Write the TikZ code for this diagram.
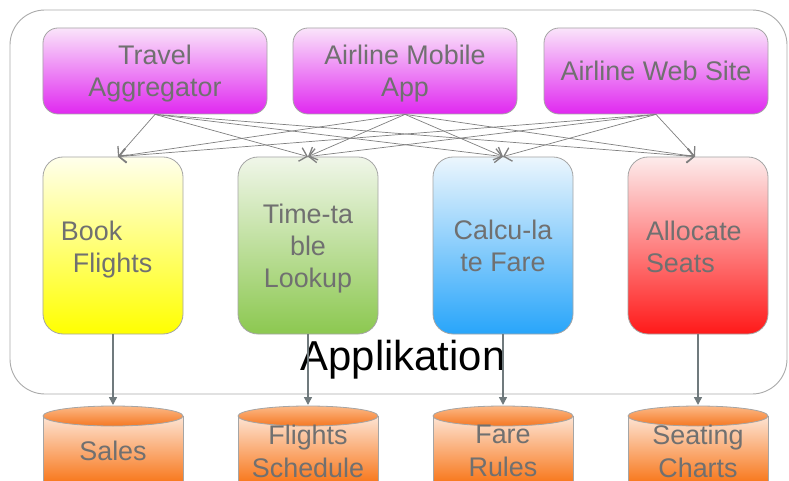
\documentclass[tikz,border=0pt]{standalone}
\usepackage{fontspec}
\setmainfont{Liberation Sans}
\usetikzlibrary{arrows.meta}
\definecolor{txtgray}{RGB}{112,112,112}
\definecolor{bordercol}{RGB}{165,165,165}
\definecolor{outercol}{RGB}{170,170,170}
\definecolor{arrgray}{RGB}{128,128,128}
\definecolor{darrgray}{RGB}{112,122,125}
\definecolor{purtop}{RGB}{250,228,250}
\definecolor{purbot}{RGB}{224,40,240}
\definecolor{yeltop}{RGB}{255,255,236}
\definecolor{yelbot}{RGB}{255,255,0}
\definecolor{grntop}{RGB}{240,246,233}
\definecolor{grnbot}{RGB}{140,200,80}
\definecolor{blutop}{RGB}{236,246,253}
\definecolor{blubot}{RGB}{40,165,250}
\definecolor{redtop}{RGB}{253,236,236}
\definecolor{redbot}{RGB}{255,25,25}
\definecolor{dbtop}{RGB}{253,228,212}
\definecolor{dbbot}{RGB}{248,122,32}
\definecolor{eltop}{RGB}{252,185,135}
\definecolor{elbot}{RGB}{245,120,35}
\newcommand{\dbcyl}[1]{%
  \fill[top color=dbtop, bottom color=dbbot] (#1-70,416) rectangle (#1+70,481);
  \draw[bordercol, line width=0.8bp] (#1-70,416) -- (#1-70,481) (#1+70,416) -- (#1+70,481);
  \draw[bordercol, line width=0.8bp, top color=eltop, bottom color=elbot] (#1,416) ellipse [x radius=70, y radius=10];
}
\begin{document}
\begin{tikzpicture}[x=1bp,y=-1bp,
  box/.style={draw=bordercol, line width=0.8bp, inner sep=0pt, text depth=0pt,
    font=\fontsize{27}{32}\selectfont, text=txtgray, align=center},
  topbox/.style={box, rounded corners=15bp, minimum width=224bp, minimum height=86bp,
    top color=purtop, bottom color=purbot},
  midbox/.style={box, rounded corners=20bp, minimum width=140bp, minimum height=177bp},
  lbox/.style={midbox, text width=104bp, inner xsep=18bp, align=left, text depth=30bp},
  dbtext/.style={inner sep=0pt, text depth=0pt, font=\fontsize{27}{33}\selectfont,
    text=txtgray, align=center},
  toparrow/.style={draw=arrgray, line width=0.7bp,
    -{Straight Barb[length=7bp,width=14bp,line width=1.3bp]}},
  botarrow/.style={draw=darrgray, line width=1.5bp,
    -{Triangle[length=8bp,width=8bp]}}
]
\useasboundingbox (0,0) rectangle (789,481);
\fill[white] (0,0) rectangle (789,481);
\draw[outercol, line width=0.9bp, rounded corners=35bp] (10,10) rectangle (787,394);

% top boxes
\node[topbox] (ta) at (155,71) {Travel\\Aggregator};
\node[topbox] (ma) at (405,71) {Airline Mobile\\App};
\node[topbox] (ws) at (656,71) {Airline Web Site};

% middle boxes
\node[lbox, top color=yeltop, bottom color=yelbot] (bf) at (113,245.5) {Book\\\hspace*{12bp}Flights};
\node[midbox, top color=grntop, bottom color=grnbot] (tt) at (308,245.5) {Time-ta\\ble\\Lookup};
\node[midbox, top color=blutop, bottom color=blubot] (cf) at (503,245.5) {Calcu-la\\te Fare};
\node[lbox, top color=redtop, bottom color=redbot] (as) at (698,245.5) {Allocate\\Seats};

% label
\node[anchor=base, inner sep=0pt, font=\fontsize{42}{42}\selectfont] (app) at (403,370) {Applikation};

% connectors top
\foreach \s in {ta,ma,ws}{
  \draw[toparrow] (\s.south) -- ([xshift=5bp]bf.north);
  \draw[toparrow] (\s.south) -- (tt.north);
  \draw[toparrow] (\s.south) -- (cf.north);
  \draw[toparrow] (\s.south) -- ([xshift=-3bp]as.north);
}

% databases
\dbcyl{113}
\dbcyl{308}
\dbcyl{503}
\dbcyl{698}
\coordinate (salestop) at (113,405);
\coordinate (schedtop) at (308,405);
\coordinate (faretop) at (503,405);
\coordinate (seattop) at (698,405);
\node[dbtext] (sales) at (113,451) {Sales};
\node[dbtext] (sched) at (308,451) {Flights\\Schedule};
\node[dbtext] (fare) at (503,451) {Fare\\Rules};
\node[dbtext] (seat) at (698,451) {Seating\\Charts};

% connectors bottom
\draw[botarrow] (bf.south) -- (salestop);
\draw[botarrow] (tt.south) -- (schedtop);
\draw[botarrow] (cf.south) -- (faretop);
\draw[botarrow] (as.south) -- (seattop);
\end{tikzpicture}
\end{document}
